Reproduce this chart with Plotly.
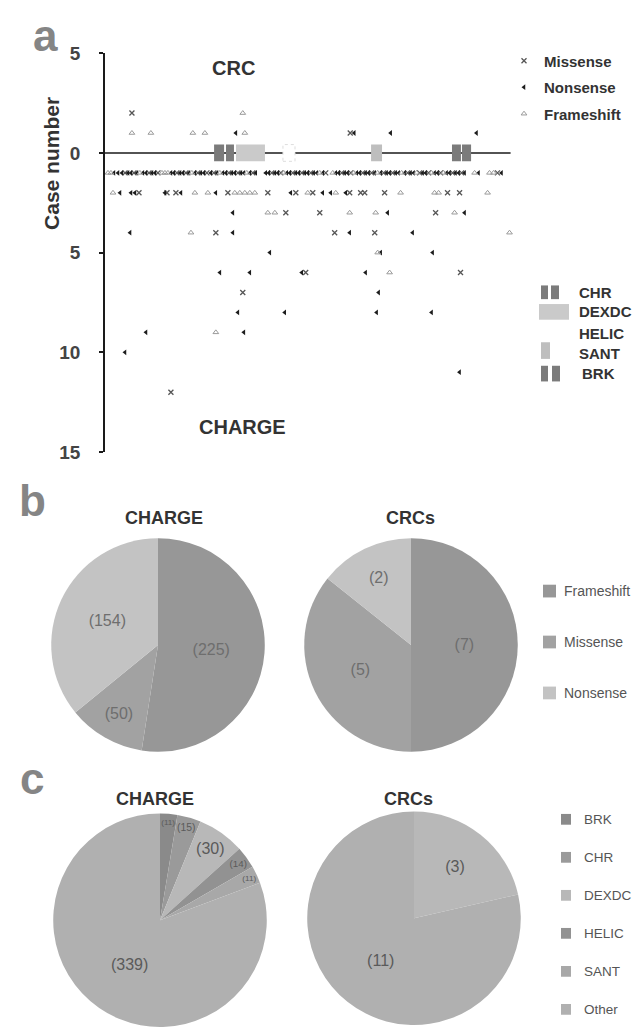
import plotly.graph_objects as go

FONT = "Liberation Sans, Arial, sans-serif"
W, H = 640, 1030

# ---------------- Panel a data ----------------
protein_length = 2997
domain_names = ["CHR", "CHR", "DEXDC", "HELIC", "SANT", "BRK", "BRK"]
domain_start = [806, 894, 968, 1315, 1966, 2564, 2638]
domain_end = [880, 953, 1182, 1404, 2047, 2630, 2705]
domain_colors = {"CHR": "#7b7b7b", "DEXDC": "#cacaca", "HELIC": "#ffffff",
                 "SANT": "#bebebe", "BRK": "#7b7b7b"}

# CRC cases (plotted above the protein line): {case number: [positions]}
crc_missense = {2: [199], 1: [1812]}
crc_nonsense = {1: [967, 1842, 2111, 2745]}
crc_frameshift = {2: [1018], 1: [199, 339, 649, 738, 1033]}

# CHARGE cases (plotted below the protein line): {case number: [positions]}
charge_missense = {
    1: [148, 214, 325, 391, 531, 598, 686, 753, 804, 915, 982, 1092, 1232, 1299,
        1387, 1454, 1520, 1631, 1749, 1816, 1904, 1970, 2059, 2125, 2236, 2325,
        2391, 2480, 2568, 2635, 2900],
    2: [251, 458, 524, 908, 1203, 1410, 1535, 1808, 1889, 1919, 2066, 2531, 2620],
    3: [1336, 1587, 2443],
    4: [819, 1697, 1993],
    6: [1483, 2627],
    7: [1018],
    12: [487],
}
charge_nonsense = {
    1: [66, 96, 125, 170, 192, 236, 280, 303, 347, 369, 487, 509, 554, 576, 620,
        664, 708, 731, 782, 827, 871, 893, 937, 959, 1004, 1026, 1070, 1114, 1188,
        1210, 1255, 1277, 1343, 1365, 1410, 1432, 1476, 1498, 1542, 1565, 1609,
        1705, 1727, 1771, 1793, 1860, 1882, 1926, 1948, 1993, 2037, 2081, 2103,
        2148, 2170, 2214, 2258, 2280, 2347, 2369, 2435, 2458, 2524, 2546, 2590,
        2613, 2657, 2760, 2930],
    2: [111, 192, 221, 443, 561, 819, 1373, 1609, 1668, 1779],
    3: [945, 2089, 2657],
    4: [185, 945, 1808, 2273],
    5: [1218, 2037, 2421],
    6: [849, 1070, 1454, 1926],
    7: [2022],
    8: [982, 1328, 2007, 2413],
    9: [303, 1026],
    10: [148],
    11: [2620],
}
charge_frameshift = {
    1: [22, 44, 258, 421, 443, 465, 642, 849, 1048, 1321, 1587, 1683, 1838, 2015,
        2192, 2303, 2413, 2502, 2731, 2841, 2871],
    2: [59, 664, 760, 959, 996, 1033, 1070, 1107, 1498, 1705, 2184, 2435, 2465, 2827],
    3: [1203, 1255, 1808, 2000, 2583],
    4: [635, 2989],
    5: [2015],
    6: [2103],
    9: [819],
}

y_tick_vals = [5, 0, -5, -10, -15]
y_tick_text = ["5", "0", "5", "10", "15"]

# ---------------- Panel b / c data ----------------
b_categories = ["Frameshift", "Missense", "Nonsense"]
b_charge = [225, 50, 154]
b_crc = [7, 5, 2]
b_colors = ["#979797", "#a2a2a2", "#c3c3c3"]

c_categories = ["BRK", "CHR", "DEXDC", "HELIC", "SANT", "Other"]
c_charge = [11, 15, 30, 14, 11, 339]
c_crc = [0, 0, 3, 0, 0, 11]
c_colors = ["#8a8a8a", "#9a9a9a", "#b8b8b8", "#929292", "#a8a8a8", "#b0b0b0"]


def px(x):
    return x / W


def py(y):
    return 1 - y / H


def flatten(crc, charge):
    xs, ys = [], []
    for case, poss in crc.items():
        for p in poss:
            xs.append(p)
            ys.append(case)
    for case, poss in charge.items():
        for p in poss:
            xs.append(p)
            ys.append(-case)
    return xs, ys


fig = go.Figure()

mut_styles = [
    ("Missense", crc_missense, charge_missense,
     dict(symbol="x-thin", size=5, color="#555555", line=dict(width=1.3, color="#555555"))),
    ("Nonsense", crc_nonsense, charge_nonsense,
     dict(symbol="triangle-left", size=5, color="#1c1c1c", line=dict(width=0))),
    ("Frameshift", crc_frameshift, charge_frameshift,
     dict(symbol="triangle-up-open", size=5, color="#9a9a9a", line=dict(width=1))),
]
for name, crc, charge, mk in mut_styles:
    xs, ys = flatten(crc, charge)
    fig.add_trace(go.Scatter(x=xs, y=ys, mode="markers", name=name, marker=mk,
                             legendgroup=name, cliponaxis=False,
                             xaxis="x", yaxis="y"))

# pies
pie_common = dict(sort=False, direction="clockwise", rotation=0, textinfo="text",
                  textposition="inside", insidetextorientation="horizontal",
                  showlegend=False, hoverinfo="label+value")


def ptxt(vals):
    return ["" if v == 0 else "(%d)" % v for v in vals]


def dom(cx, cy, r):
    return dict(x=[px(cx - r), px(cx + r)], y=[py(cy + r), py(cy - r)])


fig.add_trace(go.Pie(labels=b_categories, values=b_charge, text=ptxt(b_charge),
                     marker=dict(colors=b_colors, line=dict(width=0)),
                     textfont=dict(size=16, color="#6e6e6e", family=FONT),
                     domain=dom(150, 640, 109), **pie_common))
fig.add_trace(go.Pie(labels=b_categories, values=b_crc, text=ptxt(b_crc),
                     marker=dict(colors=b_colors, line=dict(width=0)),
                     textfont=dict(size=16, color="#6e6e6e", family=FONT),
                     domain=dom(403, 640, 109), **pie_common))
fig.add_trace(go.Pie(labels=c_categories, values=c_charge, text=ptxt(c_charge),
                     marker=dict(colors=c_colors, line=dict(width=0)),
                     textfont=dict(size=16, color="#5a5a5a", family=FONT),
                     domain=dom(152, 921, 109), **pie_common))
fig.add_trace(go.Pie(labels=c_categories, values=c_crc, text=ptxt(c_crc),
                     marker=dict(colors=c_colors, line=dict(width=0)),
                     textfont=dict(size=16, color="#5a5a5a", family=FONT),
                     domain=dom(406, 919, 109), **pie_common))

shapes = []
# protein line
shapes.append(dict(type="line", xref="x", yref="y", x0=0, x1=protein_length, y0=0, y1=0,
                   line=dict(color="#1a1a1a", width=1.6)))
for n, s, e in zip(domain_names, domain_start, domain_end):
    if n == "HELIC":
        ln = dict(color="#dddddd", width=1, dash="dot")
    else:
        ln = dict(width=0)
    shapes.append(dict(type="rect", xref="x", yref="y", x0=s, x1=e, y0=-0.42, y1=0.42,
                       fillcolor=domain_colors[n], line=ln))

annotations = []


def ann(text, x, y, size, color="#333333", bold=True, xanchor="center", yanchor="middle",
        angle=0):
    annotations.append(dict(text=text, x=px(x), y=py(y), xref="paper", yref="paper",
                            showarrow=False, xanchor=xanchor, yanchor=yanchor,
                            textangle=angle,
                            font=dict(family=FONT, size=size, color=color,
                                      weight="bold" if bold else "normal")))


# panel letters
ann("a", 37, 18, 44, "#858585")
ann("b", 24, 493, 44, "#858585")
ann("c", 24, 776, 44, "#858585")

# panel a titles
ann("CRC", 225, 51, 20)
ann("CHARGE", 234, 418, 20)
ann("Case number", 44, 149, 21, angle=-90)

# domain legend
dom_leg_y = {"CHR": 280, "DEXDC": 300, "HELIC": 322, "SANT": 342, "BRK": 363}
for n in dom_leg_y:
    ann(n, 569 if n != "BRK" else 572, dom_leg_y[n], 15, "#333333", xanchor="left")
leg_boxes = [("CHR", 533, 540, 273, 287), ("CHR", 543, 551, 273, 287),
             ("DEXDC", 531, 561, 292, 308), ("SANT", 533, 542, 331, 348),
             ("BRK", 533, 540, 355, 371), ("BRK", 544, 552, 355, 371)]
for n, x0, x1, y0, y1 in leg_boxes:
    shapes.append(dict(type="rect", xref="paper", yref="paper", x0=px(x0), x1=px(x1),
                       y0=py(y1), y1=py(y0), fillcolor=domain_colors[n], line=dict(width=0)))

# pie titles
ann("CHARGE", 156, 510, 18)
ann("CRCs", 402, 510, 18)
ann("CHARGE", 147, 797, 18)
ann("CRCs", 400, 797, 18)

# pie b legend
for i, (cat, col) in enumerate(zip(b_categories, b_colors)):
    yc = 585 + i * 52
    shapes.append(dict(type="rect", xref="paper", yref="paper", x0=px(535), x1=px(548),
                       y0=py(yc + 6.5), y1=py(yc - 6.5), fillcolor=col, line=dict(width=0)))
    ann(cat, 554, yc, 14, "#555555", bold=False, xanchor="left")

# pie c legend
for i, (cat, col) in enumerate(zip(c_categories, c_colors)):
    yc = 818 + i * 38.8
    shapes.append(dict(type="rect", xref="paper", yref="paper", x0=px(553), x1=px(563),
                       y0=py(yc + 5.5), y1=py(yc - 5.5), fillcolor=col, line=dict(width=0)))
    ann(cat, 574, yc, 13.5, "#555555", bold=False, xanchor="left")

fig.update_layout(
    width=W, height=H,
    margin=dict(l=0, r=0, t=0, b=0),
    paper_bgcolor="white", plot_bgcolor="white",
    font=dict(family=FONT),
    xaxis=dict(domain=[px(97), px(503)], range=[0, 3000], visible=False,
               showgrid=False, zeroline=False),
    yaxis=dict(domain=[py(443), py(36)], range=[-15, 5], showgrid=False, zeroline=False,
               showline=True, linecolor="#1a1a1a", linewidth=1.6,
               ticks="outside", ticklen=4, tickwidth=1.5, tickcolor="#1a1a1a",
               tickvals=y_tick_vals, ticktext=y_tick_text, ticklabelstandoff=15,
               tickfont=dict(family=FONT, size=19, color="#444444", weight="bold")),
    legend=dict(x=px(496), y=py(27), xanchor="left", yanchor="top",
                font=dict(family=FONT, size=15, color="#333333", weight="bold"),
                tracegroupgap=4, bgcolor="rgba(0,0,0,0)"),
    shapes=shapes,
    annotations=annotations,
)

fig.write_html("out.html")
